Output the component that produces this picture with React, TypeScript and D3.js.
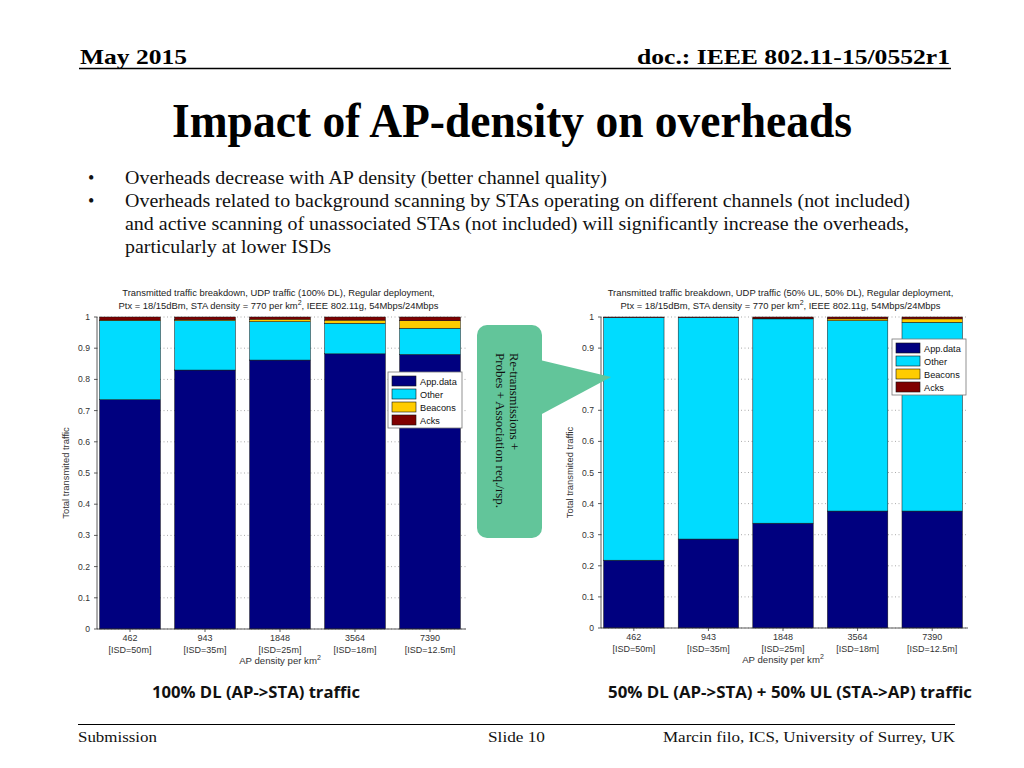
import * as d3 from 'd3';

// AP density categories (x axis)
const densities = ['462', '943', '1848', '3564', '7390'];
const isdLabels = ['[ISD=50m]', '[ISD=35m]', '[ISD=25m]', '[ISD=18m]', '[ISD=12.5m]'];
const seriesNames = ['App.data', 'Other', 'Beacons', 'Acks'];
const seriesColors = ['#00007f', '#00dcff', '#ffcc00', '#7f0000'];
const yTicks = [0, 0.1, 0.2, 0.3, 0.4, 0.5, 0.6, 0.7, 0.8, 0.9, 1];

// 100% DL traffic
const dlApp = [0.735, 0.830, 0.862, 0.882, 0.880];
const dlOther = [0.253, 0.158, 0.123, 0.098, 0.084];
const dlBeacons = [0.002, 0.003, 0.008, 0.010, 0.024];
const dlAcks = [0.010, 0.009, 0.007, 0.010, 0.012];

// 50% DL + 50% UL traffic
const ulApp = [0.218, 0.286, 0.337, 0.376, 0.376];
const ulOther = [0.780, 0.712, 0.657, 0.612, 0.607];
const ulBeacons = [0.000, 0.000, 0.001, 0.006, 0.011];
const ulAcks = [0.002, 0.002, 0.005, 0.006, 0.006];

// slide text, with the rendered width of each line in the original
const bulletLines: [string, number, boolean][] = [
  ['Overheads decrease with AP density (better channel quality)', 482, true],
  ['Overheads related to background scanning by STAs operating on different channels (not included)', 785, true],
  ['and active scanning of unassociated STAs (not included) will significantly increase the overheads,', 784, false],
  ['particularly at lower ISDs', 206, false],
];

const SANS = "'Liberation Sans', Arial, Helvetica, sans-serif";
const SERIF = "'Liberation Serif', 'Times New Roman', serif";

type Row = { cat: string; [k: string]: number | string };

interface ChartProps {
  left: number;
  right: number;
  top: number;
  bottom: number;
  series: number[][];
  titleLine1: string;
  titleShift: number;
  legend: { x: number; y: number };
}

function StackedChart({ left, right, top, bottom, series, titleLine1, titleShift, legend }: ChartProps) {
  const x = d3.scaleLinear().domain([0.56, 5.48]).range([left, right]);
  const y = d3.scaleLinear().domain([0, 1]).range([bottom, top]);
  const rows: Row[] = densities.map((cat, i) => {
    const r: Row = { cat };
    seriesNames.forEach((s, j) => (r[s] = series[j][i]));
    return r;
  });
  const stacked = d3.stack<Row>().keys(seriesNames)(rows);
  const bw = x(1.405) - x(0.595);
  const cx = (left + right) / 2 + titleShift;

  return (
    <g fontFamily={SANS}>
      {/* title */}
      <text x={cx} y={top - 21} textAnchor="middle" fontSize={9.4} fill="#222">
        {titleLine1}
      </text>
      <text x={cx} y={top - 8} textAnchor="middle" fontSize={9.4} fill="#222">
        Ptx = 18/15dBm, STA density = 770 per km<tspan dy={-4} fontSize={7}>2</tspan>
        <tspan dy={4}>, IEEE 802.11g, 54Mbps/24Mbps</tspan>
      </text>

      {/* grid */}
      {yTicks.map((t) => (
        <line key={t} x1={left} x2={right} y1={y(t)} y2={y(t)} stroke="#888" strokeWidth={0.7} strokeDasharray="1,2.5" />
      ))}

      {/* bars */}
      {stacked.map((layer, j) => (
        <g key={layer.key} fill={seriesColors[j]}>
          {layer.map((d, i) => (
            <rect
              key={i}
              x={x(i + 1) - bw / 2}
              y={y(d[1])}
              width={bw}
              height={Math.max(0, y(d[0]) - y(d[1]))}
              stroke="#111"
              strokeWidth={0.5}
            />
          ))}
        </g>
      ))}

      {/* axes */}
      <line x1={left} x2={left} y1={top} y2={bottom} stroke="#333" strokeWidth={0.8} />
      <line x1={left} x2={right} y1={bottom} y2={bottom} stroke="#333" strokeWidth={0.8} />
      {yTicks.map((t) => (
        <g key={t}>
          <line x1={left - 3} x2={left} y1={y(t)} y2={y(t)} stroke="#333" strokeWidth={0.8} />
          <text x={left - 7} y={y(t) + 3} textAnchor="end" fontSize={8.6} fill="#333">
            {d3.format('~g')(t)}
          </text>
        </g>
      ))}
      {densities.map((c, i) => (
        <g key={c} fontSize={9} fill="#333" textAnchor="middle">
          <line x1={x(i + 1)} x2={x(i + 1)} y1={bottom} y2={bottom + 3} stroke="#333" strokeWidth={0.8} />
          <text x={x(i + 1)} y={bottom + 12}>{c}</text>
          <text x={x(i + 1)} y={bottom + 24}>{isdLabels[i]}</text>
        </g>
      ))}
      <text x={x(3)} y={bottom + 35} textAnchor="middle" fontSize={9.6} fill="#333">
        AP density per km<tspan dy={-4} fontSize={7}>2</tspan>
      </text>
      <text
        transform={`translate(${left - 28},${(top + bottom) / 2}) rotate(-90)`}
        textAnchor="middle"
        fontSize={9.4}
        fill="#333"
      >
        Total transmited traffic
      </text>

      {/* legend */}
      <g transform={`translate(${legend.x},${legend.y})`}>
        <rect width={74} height={56} fill="#fff" stroke="#777" strokeWidth={0.8} />
        {seriesNames.map((s, j) => (
          <g key={s} transform={`translate(4,${4 + j * 13})`}>
            <rect width={24} height={10} fill={seriesColors[j]} stroke="#111" strokeWidth={0.6} />
            <text x={28} y={8.5} fontSize={9.2} fill="#111">{s}</text>
          </g>
        ))}
      </g>
    </g>
  );
}

export default function App() {
  return (
    <svg
      width={1024}
      height={768}
      style={{ position: 'absolute', left: 0, top: 0, background: '#fff' }}
    >
      {/* header */}
      <g fontFamily={SERIF} fontWeight="bold" fontSize={21}>
        <text x={80} y={64} textLength={107} lengthAdjust="spacingAndGlyphs">May 2015</text>
        <text x={950} y={64} textAnchor="end" textLength={313} lengthAdjust="spacingAndGlyphs">
          doc.: IEEE 802.11-15/0552r1
        </text>
      </g>
      <line x1={79} x2={951} y1={68.5} y2={68.5} stroke="#000" strokeWidth={1.5} />

      <text
        x={172}
        y={137}
        fontFamily={SERIF}
        fontWeight="bold"
        fontSize={48}
        textLength={680}
        lengthAdjust="spacingAndGlyphs"
      >
        Impact of AP-density on overheads
      </text>

      <g fontFamily={SERIF} fontSize={18} fill="#111">
        {bulletLines.map(([l, w, bullet], k) => (
          <g key={k}>
            {bullet && <text x={88} y={184 + k * 23}>•</text>}
            <text x={125} y={184 + k * 23} textLength={w} lengthAdjust="spacingAndGlyphs">{l}</text>
          </g>
        ))}
      </g>

      <StackedChart
        left={97}
        right={466}
        top={317}
        bottom={629}
        series={[dlApp, dlOther, dlBeacons, dlAcks]}
        titleLine1="Transmitted traffic breakdown, UDP traffic (100% DL), Regular deployment,"
        titleShift={-3}
        legend={{ x: 388, y: 372 }}
      />
      <StackedChart
        left={601}
        right={968}
        top={317}
        bottom={628}
        series={[ulApp, ulOther, ulBeacons, ulAcks]}
        titleLine1="Transmitted traffic breakdown, UDP traffic (50% UL, 50% DL), Regular deployment,"
        titleShift={-4}
        legend={{ x: 892, y: 339 }}
      />

      {/* callout */}
      <g>
        <rect x={477} y={325} width={65} height={213} rx={10} fill="#62c59a" />
        <polygon points="540,360 611,377 540,415" fill="#62c59a" />
        <g fontFamily={SERIF} fontSize={13} fill="#111">
          <text transform="translate(510,353) rotate(90)" textLength={97} lengthAdjust="spacingAndGlyphs">
            Re-transmissions +
          </text>
          <text transform="translate(496,353) rotate(90)" textLength={155} lengthAdjust="spacingAndGlyphs">
            Probes + Association req./rsp.
          </text>
        </g>
      </g>

      {/* captions */}
      <g fontFamily="'Open Sans', Lato, sans-serif" fontWeight="bold" fontSize={15.5} fill="#111">
        <text x={152} y={698} textLength={208} lengthAdjust="spacingAndGlyphs">100% DL (AP-&gt;STA) traffic</text>
        <text x={608} y={698} textLength={364} lengthAdjust="spacingAndGlyphs">
          50% DL (AP-&gt;STA) + 50% UL (STA-&gt;AP) traffic
        </text>
      </g>

      {/* footer */}
      <line x1={78} x2={955} y1={724.5} y2={724.5} stroke="#000" strokeWidth={1.2} />
      <g fontFamily={SERIF} fontSize={15.5} fill="#111">
        <text x={78} y={742} textLength={79} lengthAdjust="spacingAndGlyphs">Submission</text>
        <text x={488} y={742} textLength={57} lengthAdjust="spacingAndGlyphs">Slide 10</text>
        <text x={663} y={742} textLength={292} lengthAdjust="spacingAndGlyphs">
          Marcin filo, ICS, University of Surrey, UK
        </text>
      </g>
    </svg>
  );
}
